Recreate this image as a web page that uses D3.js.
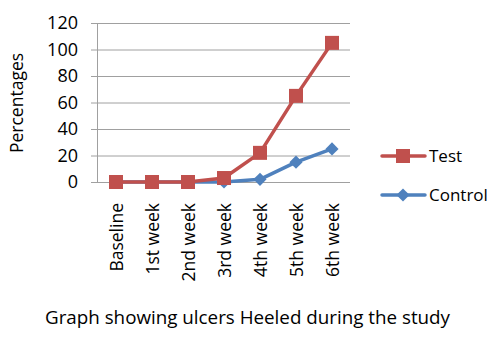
<!DOCTYPE html>
<html>
<head>
<meta charset="utf-8">
<script src="https://cdn.jsdelivr.net/npm/d3@7"></script>
<style>
  body { margin: 0; background: #fff; }
  svg { display: block; font-family: "Open Sans", sans-serif; }
</style>
</head>
<body>
<svg id="chart" width="500" height="338"></svg>
<script>
const weeks = ["Baseline", "1st week", "2nd week", "3rd week", "4th week", "5th week", "6th week"];
const testValues = [0, 0, 0, 3, 22, 65, 105];
const controlValues = [0, 0, 0, 0, 2, 15, 25];
const yTicks = [0, 20, 40, 60, 80, 100, 120];

const svg = d3.select("#chart");
const red = "#c0504d", blue = "#4f81bd";

const x = d3.scaleBand().domain(weeks).range([98, 350]);
const y = d3.scaleLinear().domain([0, 120]).range([182, 23]);
const cx = d => x(d) + x.bandwidth() / 2;

// gridlines
svg.append("g").selectAll("line").data(yTicks).join("line")
  .attr("x1", 91).attr("x2", 350)
  .attr("y1", d => y(d) + 0.5).attr("y2", d => y(d) + 0.5)
  .attr("stroke", "#a0a0a0").attr("stroke-width", 1);

// y axis line
svg.append("line")
  .attr("x1", 97.5).attr("x2", 97.5)
  .attr("y1", y(120)).attr("y2", y(0) + 0.5)
  .attr("stroke", "#a0a0a0");

// y tick labels
svg.append("g").selectAll("text").data(yTicks).join("text")
  .attr("x", 78).attr("y", d => y(d))
  .attr("dy", "0.36em").attr("text-anchor", "end")
  .attr("font-size", 18).attr("fill", "#000")
  .text(d => d);

svg.append("text")
  .attr("transform", "translate(23,103) rotate(-90)")
  .attr("text-anchor", "middle").attr("font-size", 17.5)
  .text("Percentages");

// x labels
svg.append("g").selectAll("text").data(weeks).join("text")
  .attr("transform", d => `translate(${cx(d) + 7},203) rotate(-90)`)
  .attr("text-anchor", "end").attr("font-size", 17.5)
  .text(d => d);

const line = d3.line().x((d, i) => cx(weeks[i])).y(d => y(d));

// control series
svg.append("path").datum(controlValues)
  .attr("d", line).attr("fill", "none")
  .attr("stroke", blue).attr("stroke-width", 3.5).attr("stroke-linejoin", "round");
const diamond = d3.symbol().type(d3.symbolDiamond2).size(110);
svg.append("g").selectAll("path").data(controlValues).join("path")
  .attr("transform", (d, i) => `translate(${cx(weeks[i])},${y(d)})`)
  .attr("d", diamond).attr("fill", blue);

// test series
svg.append("path").datum(testValues)
  .attr("d", line).attr("fill", "none")
  .attr("stroke", red).attr("stroke-width", 3.5).attr("stroke-linejoin", "round");
svg.append("g").selectAll("rect").data(testValues).join("rect")
  .attr("x", (d, i) => cx(weeks[i]) - 7).attr("y", d => y(d) - 7)
  .attr("width", 14).attr("height", 14).attr("fill", red);

// legend
const legend = [
  { name: "Test", color: red, y: 156, shape: "square" },
  { name: "Control", color: blue, y: 195, shape: "diamond" }
];
const lg = svg.append("g").selectAll("g").data(legend).join("g");
lg.append("line")
  .attr("x1", 382).attr("x2", 425)
  .attr("y1", d => d.y).attr("y2", d => d.y)
  .attr("stroke", d => d.color).attr("stroke-width", 3.5).attr("stroke-linecap", "round");
lg.filter(d => d.shape === "square").append("rect")
  .attr("x", 396).attr("y", d => d.y - 7).attr("width", 14).attr("height", 14)
  .attr("fill", d => d.color);
lg.filter(d => d.shape === "diamond").append("path")
  .attr("transform", d => `translate(403,${d.y})`)
  .attr("d", diamond).attr("fill", d => d.color);
lg.append("text")
  .attr("x", 429).attr("y", d => d.y).attr("dy", "0.36em")
  .attr("font-size", 17).text(d => d.name);

// caption, fitted to the width it has in the source
svg.append("text")
  .attr("x", 45).attr("y", 324).attr("font-size", 18)
  .attr("textLength", 405).attr("lengthAdjust", "spacingAndGlyphs")
  .text("Graph showing ulcers Heeled during the study");
</script>
</body>
</html>
